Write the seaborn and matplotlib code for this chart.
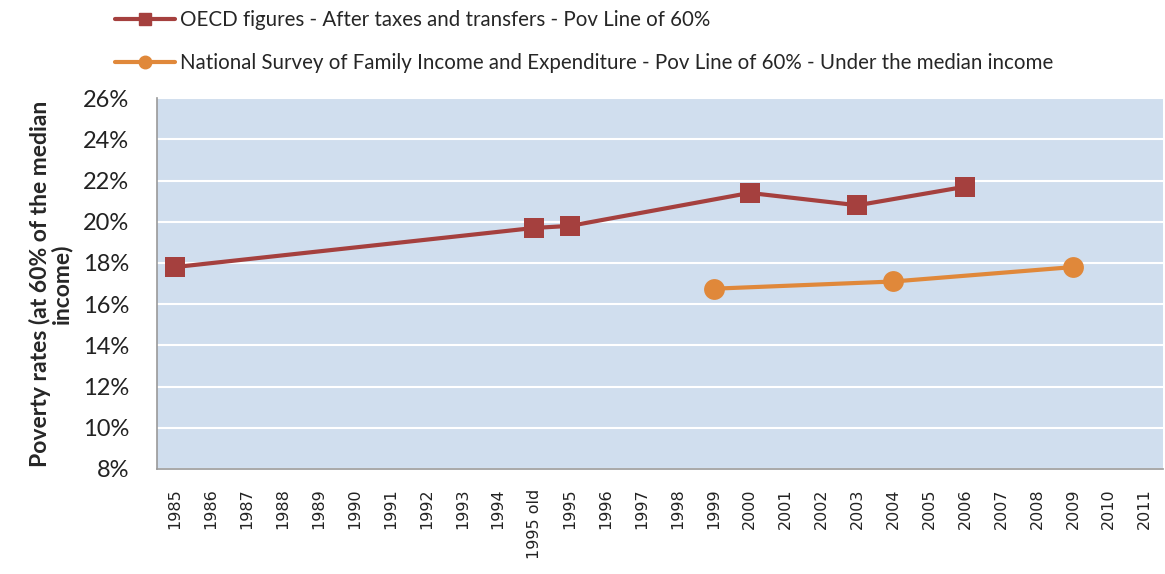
import seaborn as sns
import matplotlib.pyplot as plt
import pandas as pd
from matplotlib.ticker import FixedLocator, PercentFormatter

categories = [str(y) for y in range(1985, 1995)] + ["1995 old"] + [str(y) for y in range(1995, 2012)]

oecd_years = ["1985", "1995 old", "1995", "2000", "2003", "2006"]
oecd_values = [17.8, 19.7, 19.8, 21.4, 20.8, 21.7]

survey_years = ["1999", "2004", "2009"]
survey_values = [16.75, 17.1, 17.8]

oecd_label = "OECD figures - After taxes and transfers - Pov Line of 60%"
survey_label = "National Survey of Family Income and Expenditure - Pov Line of 60% - Under the median income"

pos = {c: i for i, c in enumerate(categories)}
df = pd.concat([
    pd.DataFrame({"x": [pos[c] for c in oecd_years], "y": oecd_values, "series": oecd_label}),
    pd.DataFrame({"x": [pos[c] for c in survey_years], "y": survey_values, "series": survey_label}),
])

sns.set_style("white")
plt.rcParams["font.family"] = ["Lato", "DejaVu Sans"]

fig = plt.figure(figsize=(11.65, 5.74), dpi=100)
ax = fig.add_axes([0.1348, 0.183, 0.8632, 0.646])
ax.set_facecolor("#d0deee")

colors = {oecd_label: "#a5403e", survey_label: "#e0883a"}
sns.lineplot(data=df, x="x", y="y", hue="series", style="series", palette=colors,
             markers={oecd_label: "s", survey_label: "o"}, dashes=False,
             linewidth=3, markersize=15, markeredgewidth=0, ax=ax, legend=False)

ax.set_xlim(-0.5, len(categories) - 0.5)
ax.set_ylim(8, 26)
ax.yaxis.set_major_locator(FixedLocator(range(8, 27, 2)))
ax.yaxis.set_major_formatter(PercentFormatter(decimals=0))
ax.grid(axis="y", color="white", linewidth=1.5)
ax.set_axisbelow(True)

ax.set_xticks(range(len(categories)))
ax.set_xticklabels(categories, rotation=90, fontsize=11.5, family="DejaVu Sans", color="#222222")
ax.set_xticks([i - 0.5 for i in range(len(categories) + 1)], minor=True)
ax.tick_params(axis="x", which="major", length=0, pad=14)
ax.tick_params(axis="x", which="minor", length=5, color="#888888", direction="out")
ax.tick_params(axis="y", length=6, color="#888888", direction="out", labelsize=17, pad=14)
for lab in ax.get_yticklabels():
    lab.set_color("#222222")

for s in ["top", "right"]:
    ax.spines[s].set_visible(False)
for s in ["left", "bottom"]:
    ax.spines[s].set_color("#999999")
    ax.spines[s].set_linewidth(1.2)

ax.set_xlabel("")
ax.set_ylabel("Poverty rates (at 60% of the median\nincome)", fontsize=16.5, fontweight="bold",
              linespacing=0.95, labelpad=8)

handles = [
    plt.Line2D([], [], color=colors[oecd_label], marker="s", markersize=9, linewidth=3),
    plt.Line2D([], [], color=colors[survey_label], marker="o", markersize=9, linewidth=3),
]
fig.legend(handles, [oecd_label, survey_label], loc="upper left", bbox_to_anchor=(0.083, 1.014),
           frameon=False, fontsize=14.8, labelspacing=1.1, handlelength=2.9, handletextpad=0.25)

fig.savefig("out.png", dpi=100)
